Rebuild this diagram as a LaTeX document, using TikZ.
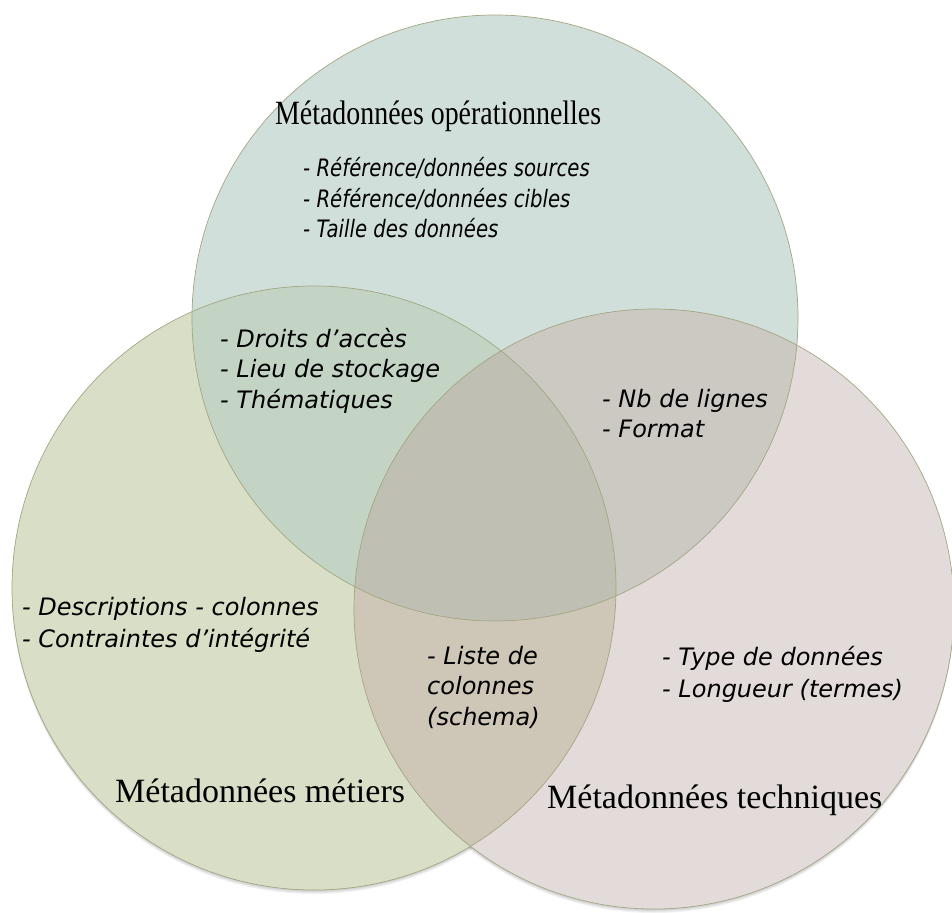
\documentclass[tikz,border=0pt]{standalone}
\usepackage{fontspec}
\setmainfont{Liberation Serif}
\newfontfamily\notefont{DejaVu Sans}

% region colours of the three-set diagram
\definecolor{opfill}{HTML}{D1DFDB}
\definecolor{mtfill}{HTML}{D9DEC6}
\definecolor{tcfill}{HTML}{E3DADA}
\definecolor{opmtfill}{HTML}{C3D4C5}
\definecolor{optcfill}{HTML}{CBC9C2}
\definecolor{mttcfill}{HTML}{CEC6B7}
\definecolor{allfill}{HTML}{C0BFB3}
\definecolor{rimcol}{HTML}{A2A782}

% left-aligned stack of lines, baseline on the first line
\newcommand\linestack[2][31pt]{\vtop{\baselineskip=#1\lineskiplimit=-100pt\lineskip=0pt
  \halign{##\hfil\cr#2\crcr}}}

\tikzset{
  rim/.style={draw=rimcol, line width=0.7pt},
  heading/.style={anchor=base west, inner sep=0pt, font=\fontsize{34}{40}\selectfont},
  notes/.style={anchor=base west, inner sep=0pt, font=\notefont\itshape\fontsize{24}{31}\selectfont},
}

\begin{document}
\begin{tikzpicture}[x=1pt,y=-1pt]
\useasboundingbox (0,0) rectangle (952,912);

\coordinate (cop) at (495,318);
\coordinate (cmt) at (314,588);
\coordinate (ctc) at (654,609);
\def\rop{303pt}
\def\rmt{302pt}
\def\rtc{300pt}

% soft shadow under each disc
\foreach \d in {1,2,3,4}{
  \fill[black, opacity=0.05] ([yshift=-\d pt]cop) circle[radius=\rop];
  \fill[black, opacity=0.05] ([yshift=-\d pt]cmt) circle[radius=\rmt];
  \fill[black, opacity=0.05] ([yshift=-\d pt]ctc) circle[radius=\rtc];
}

% single regions
\fill[opfill] (cop) circle[radius=\rop];
\fill[mtfill] (cmt) circle[radius=\rmt];
\fill[tcfill] (ctc) circle[radius=\rtc];

% pairwise overlaps
\begin{scope}
  \clip (cop) circle[radius=\rop];
  \fill[opmtfill] (cmt) circle[radius=\rmt];
  \fill[optcfill] (ctc) circle[radius=\rtc];
\end{scope}
\begin{scope}
  \clip (cmt) circle[radius=\rmt];
  \fill[mttcfill] (ctc) circle[radius=\rtc];
\end{scope}
% centre, common to all three
\begin{scope}
  \clip (cop) circle[radius=\rop];
  \clip (cmt) circle[radius=\rmt];
  \fill[allfill] (ctc) circle[radius=\rtc];
\end{scope}

% outlines
\draw[rim] (cop) circle[radius=\rop];
\draw[rim] (cmt) circle[radius=\rmt];
\draw[rim] (ctc) circle[radius=\rtc];

% operational metadata
\node[heading] (opTitle) at (275,125) {\scalebox{0.82}[1]{Métadonnées opérationnelles}};
\node[notes] (opItems) at (303,176) {\scalebox{0.82}[1]{\linestack{- Référence/données sources\cr
  - Référence/données cibles\cr - Taille des données}}};

% operational + business
\node[notes] (opmtItems) at (220,347) {\linestack[30.5pt]{- Droits d’accès\cr - Lieu de stockage\cr - Thématiques}};

% operational + technical
\node[notes] (optcItems) at (602,407) {\linestack[30pt]{- Nb de lignes\cr - Format}};

% business metadata
\node[notes] (mtItems) at (22,615) {\linestack[32pt]{- Descriptions - colonnes\cr - Contraintes d’intégrité}};
\node[heading] (mtTitle) at (115,802) {Métadonnées métiers};

% business + technical
\node[notes] (mttcItems) at (427,664) {\linestack[30.5pt]{- Liste de\cr colonnes\cr (schema)}};

% technical metadata
\node[notes] (tcItems) at (662,665) {\linestack[32pt]{- Type de données\cr - Longueur (termes)}};
\node[heading] (tcTitle) at (547,808) {Métadonnées techniques};
\end{tikzpicture}
\end{document}
